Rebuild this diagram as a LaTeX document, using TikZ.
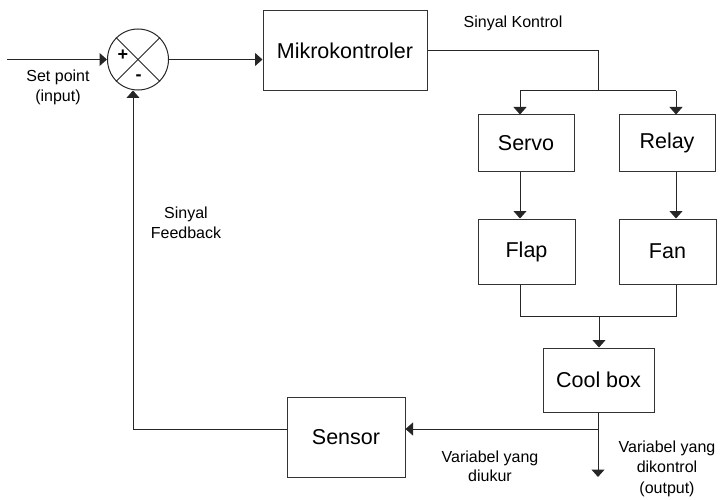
\documentclass[tikz,border=0pt]{standalone}
\usepackage{fontspec}
\setmainfont{Liberation Sans}
\usetikzlibrary{arrows.meta,calc}
\begin{document}
\begin{tikzpicture}[x=1pt,y=-1pt,
  line width=1pt,
  blk/.style={draw=black!80, line width=1pt, inner sep=0pt, font=\fontsize{21.5}{24}\selectfont},
  lbl/.style={inner sep=0pt, align=center, font=\fontsize{16}{20}\selectfont},
  arr/.style={-{Triangle[length=7.5pt,width=13pt]}},
  conn/.style={draw=black!85, line width=1pt}
]
\useasboundingbox (0,0) rectangle (722,500);

% summing junction
\node[draw=black!85, circle, minimum size=61pt, inner sep=0pt] (sum) at (138,59.5) {};
\draw[conn] (sum.north west) -- (sum.south east);
\draw[conn] (sum.north east) -- (sum.south west);
\node[inner sep=0pt, font=\fontsize{18}{20}\selectfont\bfseries] (plus) at (123,55) {+};
\node[inner sep=0pt, font=\fontsize{18}{20}\selectfont\bfseries] (minus) at (138.5,78) {-};

% blocks
\node[blk, minimum width=164pt, minimum height=80pt] (mk) at (345,51) {Mikrokontroler};
\node[blk, minimum width=96pt, minimum height=56pt] (servo) at (526,143) {Servo};
\node[blk, minimum width=96pt, minimum height=56pt] (relay) at (667,143) {Relay};
\node[blk, minimum width=97pt, minimum height=65pt] (flap) at (526.5,251.5) {Flap};
\node[blk, minimum width=97pt, minimum height=65pt] (fan) at (667.5,251.5) {Fan};
\node[blk, minimum width=111pt, minimum height=64pt] (cool) at (598.5,380) {Cool box};
\node[blk, minimum width=118pt, minimum height=80pt] (sensor) at (346,437) {Sensor};

% coordinates
\coordinate (in) at (7,59.5);
\coordinate (top) at (598,51);
\coordinate (ja) at (598,91);
\coordinate (jl) at (520,91);
\coordinate (jr) at (676,91);
\coordinate (ml) at (520,316);
\coordinate (mr) at (676,316);
\coordinate (mc) at (599,316);
\coordinate (jb) at (598,429);
\coordinate (out) at (598,477);
\coordinate (fb) at (133,429);

% connectors
\draw[conn, arr] (in) -- (sum.west);
\draw[conn, arr] (sum.east) -- (sum.east -| mk.west);
\draw[conn] (mk.east) -- (top) -- (ja);
\draw[conn] (jl) -- (jr);
\draw[conn, arr] (jl) -- (jl |- servo.north);
\draw[conn, arr] (jr) -- (jr |- relay.north);
\draw[conn, arr] (jl |- servo.south) -- (jl |- flap.north);
\draw[conn, arr] (jr |- relay.south) -- (jr |- fan.north);
\draw[conn] (ml |- flap.south) -- (ml) -- (mr) -- (mr |- fan.south);
\draw[conn, arr] (mc) -- (mc |- cool.north);
\draw[conn, arr] (cool.south -| jb) -- (out);
\draw[conn, arr] (jb) -- (jb -| sensor.east);
\draw[conn, arr] (sensor.west |- jb) -- (fb) -- (fb |- sum.south);

% labels
\node[lbl] (lsp) at (58,87.5) {Set point\\(input)};
\node[lbl] (lsk) at (513,23) {Sinyal Kontrol};
\node[lbl] (lsf) at (186,223) {Sinyal\\Feedback};
\node[lbl, font=\fontsize{16}{19}\selectfont] (lvu) at (490,466.5) {Variabel yang\\diukur};
\node[lbl, font=\fontsize{16}{20.5}\selectfont] (lvk) at (667,468.5) {Variabel yang\\dikontrol\\(output)};
\end{tikzpicture}
\end{document}
